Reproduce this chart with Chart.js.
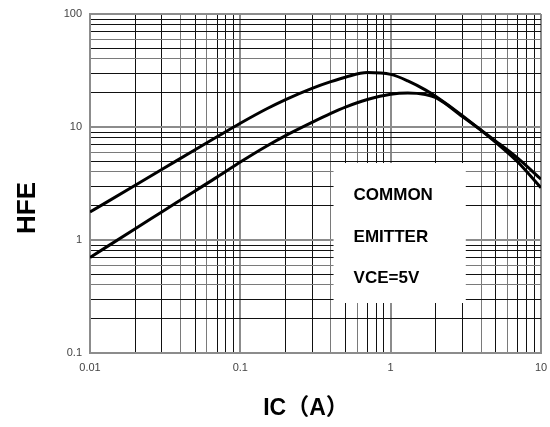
<!DOCTYPE html>
<html>
<head>
<meta charset="utf-8">
<script src="https://cdn.jsdelivr.net/npm/chart.js@4.4.1/dist/chart.umd.min.js"></script>
<style>
  html, body { margin: 0; padding: 0; background: #fff; }
  canvas { display: block; }
</style>
</head>
<body>
<canvas id="hfeChart" width="550" height="427"></canvas>
<script>
// --- data ---
const icValues = [0.01, 0.02, 0.03, 0.05, 0.07, 0.1, 0.15, 0.2, 0.3, 0.4, 0.5, 0.7, 1, 1.3, 1.7, 2, 3, 5, 7, 10];
const hfeUpper = [1.77, 3.05, 4.2, 6.3, 8.2, 10.8, 14.5, 17.5, 22.0, 25.2, 27.6, 30.3, 29.2, 25.6, 21.3, 18.6, 12.6, 7.3, 4.9, 2.9];
const hfeLower = [0.7, 1.26, 1.77, 2.72, 3.6, 4.9, 6.8, 8.4, 11.0, 13.2, 15.0, 17.5, 19.5, 20.0, 19.4, 18.2, 12.4, 7.5, 5.3, 3.45];

const xTickLabels = ['0.01', '0.1', '1', '10'];
const yTickLabels = ['0.1', '1', '10', '100'];
const noteLines = ['COMMON', 'EMITTER', 'VCE=5V'];

// every 1..9 step inside each decade, plus the last decade value
function logTicks(labels) {
    const out = [];
    const decs = labels.map(Number);
    for (let i = 0; i < decs.length - 1; i++) {
        for (let m = 1; m <= 9; m++) out.push(+(decs[i] * m).toPrecision(6));
    }
    out.push(decs[decs.length - 1]);
    return out;
}

function significand(v) {
    const e = Math.floor(Math.log10(v) + 1e-9);
    return Math.round(v / Math.pow(10, e));
}

function labelFor(labels, value) {
    const hit = labels.find(l => Math.abs(Math.log10(Number(l)) - Math.log10(value)) < 1e-6);
    return hit || '';
}

const gridColor = (c) => {
    const s = significand(c.tick.value);
    if (s === 1) return '#8c8c8c';
    if (s === 4 || s === 6) return '#7a7a7a';
    return '#111';
};
const gridWidth = (c) => significand(c.tick.value) === 1 ? 2 : 1;

const toPoints = (ys) => icValues.map((x, i) => ({ x: x, y: ys[i] }));

// white note box + text + axis titles
const notes = {
    id: 'notes',
    beforeDatasetsDraw(chart) {
        const { ctx, scales: { x, y } } = chart;
        const left = x.getPixelForValue(0.417), right = x.getPixelForValue(3.16);
        const top = y.getPixelForValue(4.8), bottom = y.getPixelForValue(0.277);
        ctx.save();
        ctx.fillStyle = '#fff';
        ctx.fillRect(left, top, right - left, bottom - top);
        ctx.fillStyle = '#000';
        ctx.font = 'bold 17px "Liberation Sans", Arial, sans-serif';
        ctx.textBaseline = 'alphabetic';
        noteLines.forEach((t, i) => ctx.fillText(t, left + 20, top + 37 + i * 41.5));
        ctx.restore();
    },
    afterDraw(chart) {
        const { ctx } = chart;
        ctx.save();
        ctx.fillStyle = '#000';
        ctx.textAlign = 'center';
        ctx.textBaseline = 'alphabetic';
        ctx.font = 'bold 23px "Liberation Sans", Arial, "Noto Sans CJK SC", sans-serif';
        ctx.fillText('IC（A）', 306, 415);
        ctx.translate(35, 208);
        ctx.rotate(-Math.PI / 2);
        ctx.font = 'bold 26px "Liberation Sans", Arial, sans-serif';
        ctx.fillText('HFE', 0, 0);
        ctx.restore();
    }
};

const tickFont = { family: '"Liberation Sans", Arial, sans-serif', size: 11 };

new Chart(document.getElementById('hfeChart'), {
    type: 'line',
    data: {
        datasets: [
            { data: toPoints(hfeUpper), borderColor: '#000', borderWidth: 3, pointRadius: 0, cubicInterpolationMode: 'monotone' },
            { data: toPoints(hfeLower), borderColor: '#000', borderWidth: 3, pointRadius: 0, cubicInterpolationMode: 'monotone' }
        ]
    },
    options: {
        responsive: false,
        animation: false,
        layout: { padding: { top: 14, right: 9, left: 0, bottom: 0 } },
        plugins: { legend: { display: false }, tooltip: { enabled: false } },
        scales: {
            x: {
                type: 'logarithmic',
                min: 0.01, max: 10,
                afterBuildTicks: (s) => { s.ticks = logTicks(xTickLabels).map(v => ({ value: v })); },
                afterFit: (s) => { s.height = 74; s.paddingRight = 0; s.paddingLeft = 0; },
                ticks: {
                    autoSkip: false, maxRotation: 0, padding: 8, color: '#444', font: tickFont,
                    callback: (v) => labelFor(xTickLabels, v)
                },
                grid: { color: gridColor, lineWidth: gridWidth, drawTicks: false },
                border: { color: '#8c8c8c', width: 2 }
            },
            y: {
                type: 'logarithmic',
                min: 0.1, max: 100,
                afterBuildTicks: (s) => { s.ticks = logTicks(yTickLabels).map(v => ({ value: v })); },
                afterFit: (s) => { s.width = 90; s.paddingTop = 0; s.paddingBottom = 0; },
                ticks: {
                    autoSkip: false, padding: 8, color: '#444', font: tickFont,
                    callback: (v) => labelFor(yTickLabels, v)
                },
                grid: { color: gridColor, lineWidth: gridWidth, drawTicks: false },
                border: { color: '#8c8c8c', width: 2 }
            }
        }
    },
    plugins: [notes]
});
</script>
</body>
</html>
